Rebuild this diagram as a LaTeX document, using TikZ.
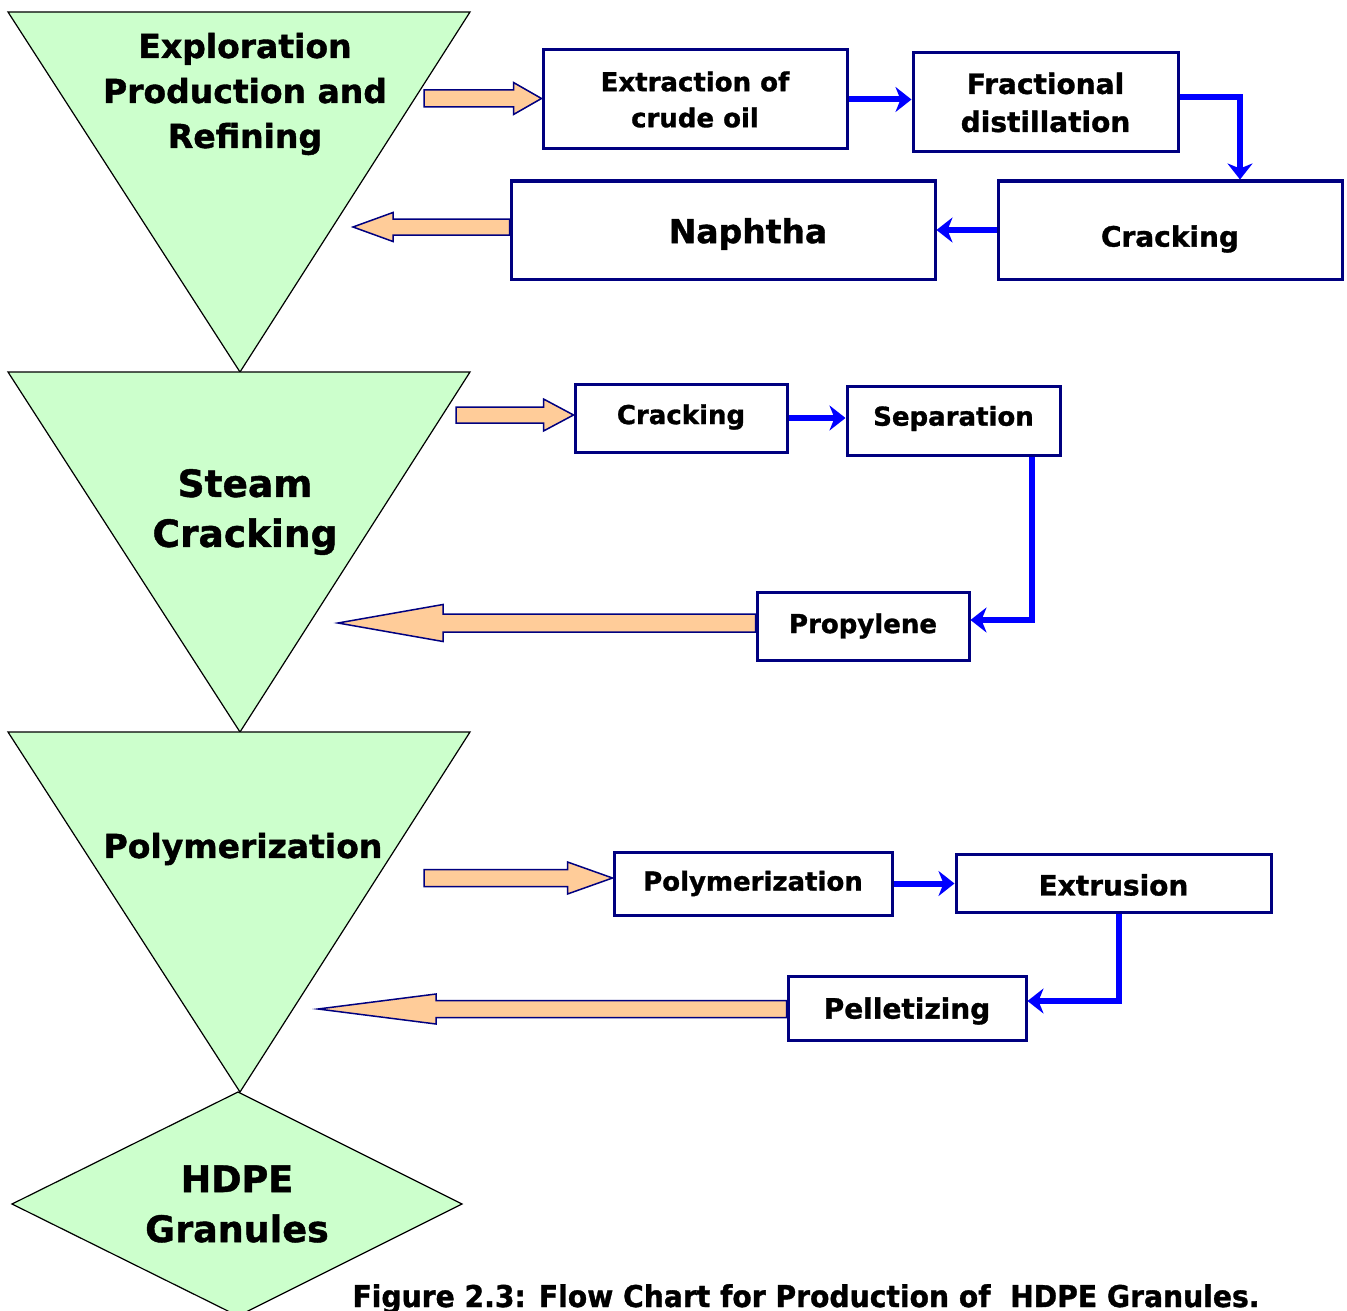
\documentclass[tikz,border=0pt]{standalone}
\usepackage{fontspec}
\setmainfont{DejaVu Sans}[BoldFeatures={FakeBold=1.2}]
\usetikzlibrary{arrows.meta,calc}
\definecolor{stagefill}{HTML}{CCFFCC}
\definecolor{boxline}{HTML}{000080}
\definecolor{flowblue}{HTML}{0000FF}
\definecolor{peach}{HTML}{FFCC99}
% horizontal block arrow: #1 tail, #2 tip, #3 shaft half-height, #4 head half-height, #5 head length
\newcommand\blockarrow[5]{%
  \draw[blockarrow] let \p1=(#1), \p2=(#2), \n1={sign(\x2-\x1)*#5} in
    (\x1,\y2+#3pt) -- (\x2-\n1*1pt,\y2+#3pt) -- (\x2-\n1*1pt,\y2+#4pt) -- (\x2,\y2)
    -- (\x2-\n1*1pt,\y2-#4pt) -- (\x2-\n1*1pt,\y2-#3pt) -- (\x1,\y2-#3pt) -- cycle;}
% lower a label inside its box without changing the box
\newcommand\lowered[2]{\raisebox{-#1}[\height][\depth]{#2}}
\begin{document}
\begin{tikzpicture}[x=1pt,y=-1pt,
  stage/.style={fill=stagefill,draw=black,line width=1.2pt,line join=miter},
  stagetext/.style={align=center,font=\bfseries\fontsize{33}{45}\selectfont},
  procbox/.style={draw=boxline,line width=3pt,fill=white,align=center,inner sep=0pt,
    font=\bfseries\fontsize{26}{36}\selectfont},
  flow/.style={draw=flowblue,line width=6pt,
    -{Stealth[length=16pt,width=25pt,inset=5pt]}},
  blockarrow/.style={fill=peach,draw=boxline,line width=1.5pt,line join=miter}]
\clip (0,0) rectangle (1347,1311);
\useasboundingbox (0,0) rectangle (1347,1311);

% stages
\draw[stage] (8,12) -- (470,12) -- (240,372) -- cycle;
\draw[stage] (8,372) -- (470,372) -- (240,732) -- cycle;
\draw[stage] (8,732) -- (470,732) -- (240,1092) -- cycle;
\draw[stage] (238,1092) -- (462,1204) -- (238,1316) -- (12,1204) -- cycle;

\node[stagetext] (s1) at (245,94) {Exploration\\Production and\\Refining};
\node[stagetext,font=\bfseries\fontsize{37.5}{50}\selectfont] (s2) at (245,512) {Steam\\Cracking};
\node[stagetext] (s3) at (243,849) {Polymerization};
\node[stagetext,font=\bfseries\fontsize{36.5}{50}\selectfont] (s4) at (237,1204) {HDPE\\Granules};

% process boxes
\node[procbox,minimum width=304pt,minimum height=99pt] (ext) at (695,99.5) {Extraction of\\crude oil};
\node[procbox,minimum width=265pt,minimum height=99pt,font=\bfseries\fontsize{28}{38}\selectfont] (frac) at (1045.5,102.5) {Fractional\\distillation};
\node[procbox,minimum width=344pt,minimum height=98pt,font=\bfseries\fontsize{28}{36}\selectfont] (crk1) at (1170,230) {\lowered{9pt}{Cracking}};
\node[procbox,minimum width=424pt,minimum height=98pt,font=\bfseries\fontsize{33}{40}\selectfont] (nap) at (723,230) {\hspace*{50pt}\lowered{4pt}{Naphtha}};
\node[procbox,minimum width=212pt,minimum height=68pt] (crk2) at (681,418) {\lowered{-1pt}{Cracking}};
\node[procbox,minimum width=213pt,minimum height=69pt] (sep) at (953.5,420.5) {\lowered{-2pt}{Separation}};
\node[procbox,minimum width=212pt,minimum height=68pt] (prop) at (863,626) {Propylene};
\node[procbox,minimum width=278pt,minimum height=63pt] (poly) at (753,883.5) {Polymerization};
\node[procbox,minimum width=315pt,minimum height=58pt,font=\bfseries\fontsize{28}{36}\selectfont] (extr) at (1113.5,883) {\lowered{2pt}{Extrusion}};
\node[procbox,minimum width=238pt,minimum height=64pt,font=\bfseries\fontsize{28}{36}\selectfont] (pell) at (907,1008) {\lowered{3pt}{Pelletizing}};

% flow connectors
\draw[flow] (ext.east) -- (frac.west |- ext.east);
\draw[flow] ([yshift=5pt]frac.east) -| ([xshift=70pt]crk1.north);
\draw[flow] (crk1.west) -- (nap.east |- crk1.west);
\draw[flow] (crk2.east) -- (sep.west |- crk2.east);
\draw[flow] ([xshift=78pt]sep.south) |- ([yshift=6pt]prop.east);
\draw[flow] (poly.east) -- (extr.west |- poly.east);
\draw[flow] ([xshift=5pt]extr.south) |- ([yshift=7pt]pell.east);

% block arrows between stages and processes
\coordinate (t1) at (424,101);
\coordinate (h1) at (353,227);
\coordinate (t2) at (456,415);
\coordinate (h2) at (338,623);
\coordinate (t3) at (424,878);
\coordinate (h3) at (318,1009);
\blockarrow{t1}{[yshift=1pt]ext.west}{8.5}{16}{28}
\blockarrow{nap.west}{h1}{8}{14.5}{40}
\blockarrow{t2}{[yshift=3pt]crk2.west}{8}{16}{30}
\blockarrow{prop.west}{h2}{9}{18.5}{105}
\blockarrow{t3}{[yshift=5.5pt]poly.west}{8.5}{16}{45}
\blockarrow{pell.west}{h3}{8.5}{15}{118}

% caption
\node[font=\bfseries\fontsize{30}{36}\selectfont,anchor=base] (cap) at (806,1307)
  {\resizebox{907pt}{\height}{Figure 2.3: Flow Chart for Production of \ HDPE Granules.}};
\end{tikzpicture}
\end{document}
